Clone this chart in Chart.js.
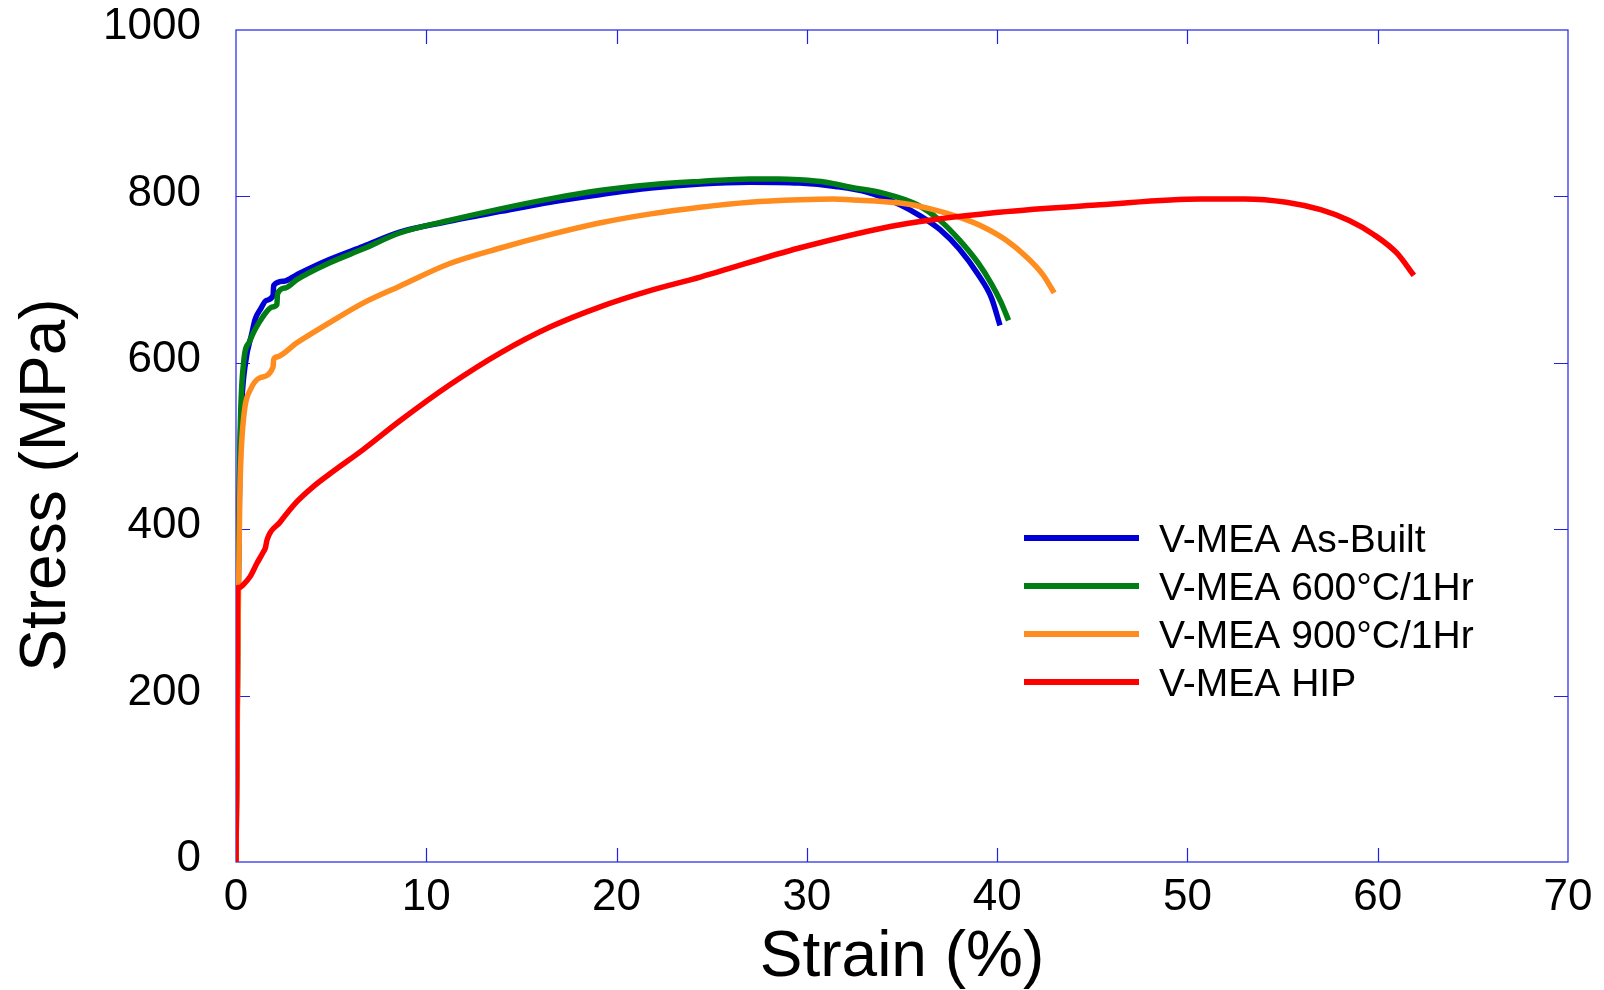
<!DOCTYPE html>
<html>
<head>
<meta charset="utf-8">
<title>Stress-Strain V-MEA</title>
<script src="https://cdn.jsdelivr.net/npm/chart.js@4/dist/chart.umd.min.js"></script>
<style>
  html, body { margin: 0; padding: 0; background: #fff; }
  canvas { display: block; }
</style>
</head>
<body>
<canvas id="chart" width="1604" height="990"></canvas>
<script>
// 数据
const seriesLabels = ['V-MEA As-Built', 'V-MEA 600°C/1Hr', 'V-MEA 900°C/1Hr', 'V-MEA HIP'];
const seriesColors = ['#0000d4', '#007d14', '#ff8c1e', '#ff0000'];

const asBuiltStrain = [0, 0.05, 0.12, 0.2, 0.3, 0.5, 0.84, 1.0, 1.3, 1.6, 1.95, 1.98, 2.5, 3.2, 4.9, 6.7, 8.6, 11.2, 13.9, 16.5, 19.1, 21.8, 24.4, 27.0, 29.6, 31.5, 33.2, 34.9, 36.0, 37.0, 38.0, 39.0, 39.7, 40.15];
const asBuiltStress = [0, 140, 330, 480, 550, 600, 636, 652, 665, 675, 681, 693, 698, 706, 724, 740, 757, 770, 782, 793, 802, 810, 815, 817, 816, 812, 805, 790, 776, 760, 737, 706, 678, 645];

const h600Strain = [0, 0.05, 0.12, 0.2, 0.4, 0.7, 1.0, 1.4, 1.9, 2.15, 2.18, 2.6, 3.2, 4.9, 6.7, 8.6, 11.2, 13.9, 16.5, 19.1, 21.8, 24.4, 27.0, 28.5, 29.6, 31.0, 32.3, 34.0, 35.8, 37.0, 38.0, 39.0, 39.7, 40.2, 40.6];
const h600Stress = [0, 140, 330, 495, 600, 625, 640, 655, 667, 670, 683, 690, 700, 720, 737, 756, 771, 785, 797, 807, 814, 818, 821, 821, 820, 817, 811, 804, 790, 771, 748, 720, 695, 673, 651];

const h900Strain = [0, 0.05, 0.12, 0.2, 0.25, 0.3, 0.47, 0.74, 1.26, 1.95, 1.98, 2.15, 3.2, 4.9, 6.7, 8.6, 11.2, 13.9, 16.5, 19.1, 21.8, 24.4, 27.0, 29.6, 31.4, 32.3, 34.9, 36.5, 38.0, 39.3, 40.5, 41.5, 42.4, 43.0];
const h900Stress = [0, 120, 300, 440, 480, 505, 547, 567, 582, 595, 604, 607, 624, 648, 672, 692, 719, 738, 754, 768, 779, 787, 793, 796, 797, 796, 792, 785, 775, 763, 747, 728, 706, 684];

const hipStrain = [0, 0.03, 0.06, 0.1, 0.2, 0.37, 0.74, 1.1, 1.42, 1.55, 1.63, 2.3, 3.2, 4.0, 4.9, 6.7, 8.6, 11.2, 13.9, 16.5, 19.1, 21.8, 24.4, 29.6, 34.9, 40.1, 45.4, 50.7, 53.0, 55.2, 57.0, 58.5, 59.8, 61.0, 61.9];
const hipStress = [0, 100, 220, 330, 330, 333, 343, 359, 372, 378, 387, 408, 433, 450, 466, 496, 530, 573, 612, 643, 667, 687, 703, 738, 766, 781, 790, 797, 797, 793, 784, 771, 754, 732, 705];

const xTicks = [0, 10, 20, 30, 40, 50, 60, 70];
const yTicks = [0, 200, 400, 600, 800, 1000];

const FONT = '"Liberation Sans", Arial, Helvetica, sans-serif';
const FRAME = '#2020e6';

function pts(xs, ys) {
    return xs.map((x, i) => ({ x: x, y: ys[i] }));
}

const allSeries = [
    pts(asBuiltStrain, asBuiltStress),
    pts(h600Strain, h600Stress),
    pts(h900Strain, h900Stress),
    pts(hipStrain, hipStress)
];

// 边框和内侧刻度
const framePlugin = {
    id: 'frame',
    beforeDatasetsDraw(chart) {
        const { ctx, chartArea: a, scales } = chart;
        const len = 14;
        ctx.save();
        ctx.strokeStyle = FRAME;
        ctx.lineWidth = 1.2;
        ctx.strokeRect(a.left, a.top, a.right - a.left, a.bottom - a.top);
        ctx.beginPath();
        xTicks.slice(1, -1).forEach(v => {
            const px = Math.round(scales.x.getPixelForValue(v)) + 0.5;
            ctx.moveTo(px, a.bottom); ctx.lineTo(px, a.bottom - len);
            ctx.moveTo(px, a.top); ctx.lineTo(px, a.top + len);
        });
        yTicks.slice(1, -1).forEach(v => {
            const py = Math.round(scales.y.getPixelForValue(v)) + 0.5;
            ctx.moveTo(a.left, py); ctx.lineTo(a.left + len, py);
            ctx.moveTo(a.right, py); ctx.lineTo(a.right - len, py);
        });
        ctx.stroke();

        // Y轴标题
        ctx.fillStyle = '#000';
        ctx.font = '64px ' + FONT;
        ctx.textAlign = 'center';
        ctx.textBaseline = 'alphabetic';
        ctx.translate(65, 485);
        ctx.rotate(-Math.PI / 2);
        ctx.fillText('Stress (MPa)', 0, 0);
        ctx.restore();
    }
};

// 图例
const legendPlugin = {
    id: 'insideLegend',
    afterDatasetsDraw(chart) {
        const { ctx } = chart;
        const x0 = 1024, x1 = 1139, tx = 1159;
        const y0 = 538, dy = 48;
        ctx.save();
        ctx.font = '39px ' + FONT;
        ctx.textAlign = 'left';
        ctx.textBaseline = 'alphabetic';
        seriesLabels.forEach((lab, i) => {
            const y = y0 + i * dy;
            ctx.strokeStyle = seriesColors[i];
            ctx.lineWidth = 6;
            ctx.beginPath();
            ctx.moveTo(x0, y);
            ctx.lineTo(x1, y);
            ctx.stroke();
            ctx.fillStyle = '#000';
            ctx.fillText(lab, tx, y + 14);
        });
        ctx.restore();
    }
};

const ctx = document.getElementById('chart').getContext('2d');
new Chart(ctx, {
    type: 'line',
    data: {
        datasets: allSeries.map((d, i) => ({
            label: seriesLabels[i],
            data: d,
            borderColor: seriesColors[i],
            backgroundColor: seriesColors[i],
            borderWidth: 5.5,
            pointRadius: 0,
            fill: false,
            cubicInterpolationMode: 'monotone',
            order: 4 - i
        }))
    },
    options: {
        responsive: false,
        animation: false,
        devicePixelRatio: 1,
        layout: { padding: { left: 0, right: 36, top: 30, bottom: 0 } },
        plugins: {
            legend: { display: false },
            tooltip: { enabled: false }
        },
        scales: {
            x: {
                type: 'linear',
                min: 0,
                max: 70,
                afterFit: s => { s.height = 128; s.paddingLeft = 0; s.paddingRight = 0; },
                afterBuildTicks: s => { s.ticks = xTicks.map(v => ({ value: v })); },
                grid: { display: false, drawTicks: false },
                border: { display: false },
                ticks: {
                    color: '#000',
                    padding: 9,
                    font: { family: FONT, size: 44 },
                    maxRotation: 0,
                    callback: v => String(v)
                },
                title: {
                    display: true,
                    text: 'Strain (%)',
                    color: '#000',
                    font: { family: FONT, size: 64, lineHeight: 1 },
                    padding: { top: 0, bottom: 0 }
                }
            },
            y: {
                type: 'linear',
                min: 0,
                max: 1000,
                afterFit: s => { s.width = 236; s.paddingTop = 0; s.paddingBottom = 0; },
                afterBuildTicks: s => { s.ticks = yTicks.map(v => ({ value: v })); },
                grid: { display: false, drawTicks: false },
                border: { display: false },
                ticks: {
                    color: '#000',
                    padding: 35,
                    labelOffset: -3,
                    font: { family: FONT, size: 44 },
                    callback: v => String(v)
                }
            }
        }
    },
    plugins: [framePlugin, legendPlugin]
});
</script>
</body>
</html>
